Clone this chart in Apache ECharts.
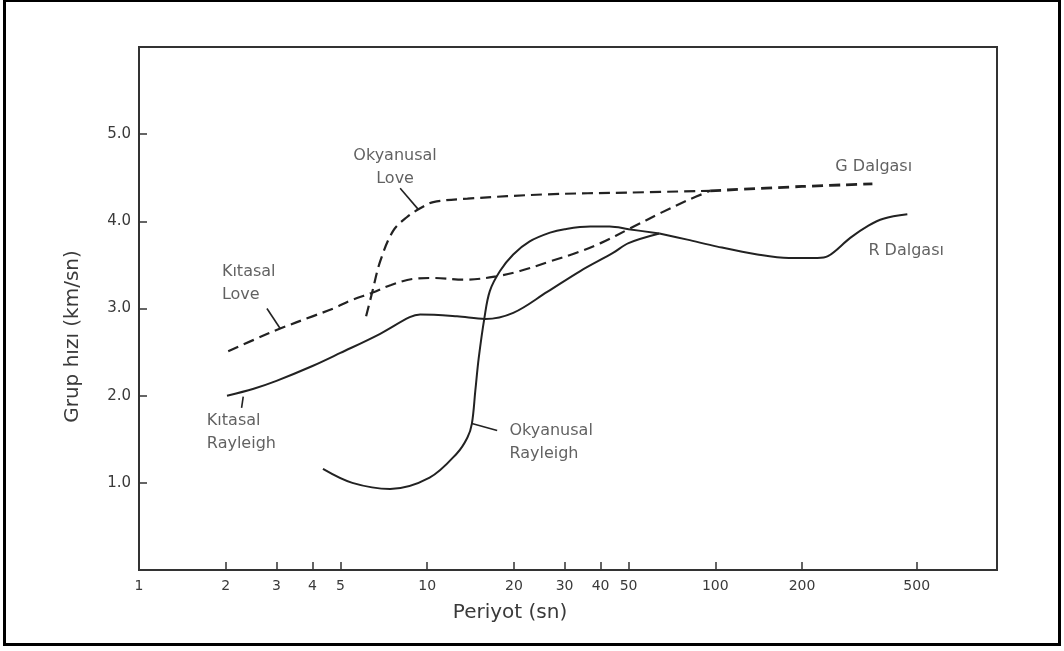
<!DOCTYPE html>
<html>
<head>
<meta charset="utf-8">
<script src="https://cdn.jsdelivr.net/npm/echarts@6/dist/echarts.min.js"></script>
<style>
  html, body { margin: 0; padding: 0; background: #fff; }
  #frame { position: absolute; left: 3px; top: 0; width: 1058px; height: 646px;
           box-sizing: border-box; border-style: solid; border-color: #000;
           border-width: 2px 3px 3px 3px; pointer-events: none; z-index: 5; }
  #chart { position: absolute; left: 0; top: 0; width: 1064px; height: 651px; }
</style>
</head>
<body>
<div id="chart"></div>
<div id="frame"></div>
<script>
// ---- tick labels ----
const xTickValues = [1, 2, 3, 4, 5, 10, 20, 30, 40, 50, 100, 200, 500];
const yTickValues = [1, 2, 3, 4, 5];

// ---- series: [period (sn), group velocity (km/sn)] ----
const kitasalLove = [[2.04,2.51],[2.5,2.64],[3.09,2.77],[4,2.91],[4.72,3.0],[5.5,3.1],[6.44,3.18],[7.5,3.27],[8.94,3.34],[10.5,3.35],[13.5,3.33],[17.5,3.37],[21,3.43],[26.7,3.54],[33,3.64],[40,3.75],[50.7,3.92],[65,4.1],[80,4.24],[96,4.35]];
const okyanusalLove = [[6.14,2.91],[6.44,3.18],[6.87,3.54],[7.62,3.89],[8.52,4.05],[9.46,4.15],[10.5,4.22],[13.8,4.26],[26.1,4.31],[50,4.33],[96,4.35]];
const gDalgasi = [[96,4.35],[200,4.40],[351,4.43]];
const kitasalRayleigh = [[2.02,2.0],[2.5,2.08],[3,2.17],[4,2.34],[5,2.49],[6.87,2.71],[8.7,2.9],[9.46,2.93],[12.7,2.91],[15.9,2.88],[19.9,2.95],[26.1,3.19],[34,3.43],[44.3,3.64],[50,3.75],[64,3.86]];
const okyanusalRayleigh = [[4.35,1.16],[5.5,1.0],[7.44,0.93],[10.2,1.06],[12.7,1.34],[13.8,1.52],[14.3,1.68],[14.7,2.06],[15.1,2.43],[15.8,2.89],[16.5,3.2],[17.9,3.43],[19.9,3.62],[22.7,3.77],[26.7,3.87],[30,3.91],[36.8,3.94],[43,3.94],[50,3.91],[64,3.86]];
const rDalgasi = [[64,3.86],[80,3.79],[101.6,3.71],[140,3.62],[180,3.58],[226,3.58],[246,3.6],[294,3.81],[340,3.95],[383,4.03],[464,4.08]];

// ---- annotations (text, anchor in data units) ----
const annotTexts = ['Okyanusal\nLove', 'G Dalgası', 'R Dalgası', 'Kıtasal\nLove', 'Kıtasal\nRayleigh', 'Okyanusal\nRayleigh'];
const annotPoints = [[7.74,4.62],[261,4.63],[340,3.66],[1.94,3.29],[1.72,1.58],[19.3,1.46]];
const leaderLines = [
  [[8.06,4.38],[9.3,4.14]],
  [[2.78,3.0],[3.09,2.77]],
  [[2.3,1.99],[2.27,1.86]],
  [[14.3,1.68],[17.5,1.6]]
];

const ink = '#222';
const textCol = '#3a3a3a';
const fontFam = 'DejaVu Sans, sans-serif';

function lineSeries(name, data, dashed, width) {
  return {
    name: name, type: 'line', data: data, smooth: 0.35, symbol: 'none',
    lineStyle: { color: ink, width: width || 2, type: dashed ? [11, 6] : 'solid' },
    z: 3
  };
}

const chart = echarts.init(document.getElementById('chart'), null, { renderer: 'canvas' });
chart.setOption({
  backgroundColor: '#fff',
  animation: false,
  grid: { left: 139, right: 67, top: 47, bottom: 81, show: true, borderColor: '#333', borderWidth: 2 },
  xAxis: {
    type: 'log', logBase: 10, min: 1, max: 950,
    name: 'Periyot (sn)', nameLocation: 'middle', nameGap: 33,
    nameTextStyle: { color: textCol, fontSize: 20, fontFamily: fontFam, padding: [0, 116, 0, 0] },
    axisLine: { show: true, lineStyle: { color: '#333', width: 2 } },
    axisTick: { show: true, inside: true, length: 8, customValues: xTickValues.slice(1), lineStyle: { color: '#333', width: 1.5 } },
    axisLabel: { customValues: xTickValues, color: textCol, fontSize: 14, fontFamily: fontFam, margin: 9,
                 formatter: v => String(v) },
    splitLine: { show: false }, minorTick: { show: false }
  },
  yAxis: {
    type: 'value', min: 0, max: 6, interval: 1,
    name: 'Grup hızı (km/sn)', nameLocation: 'middle', nameRotate: 90, nameGap: 56,
    nameTextStyle: { color: textCol, fontSize: 20, fontFamily: fontFam, padding: [0, 56, 0, 0] },
    axisLine: { show: true, lineStyle: { color: '#333', width: 2 } },
    axisTick: { show: true, inside: true, length: 8, customValues: yTickValues, lineStyle: { color: '#333', width: 1.5 } },
    axisLabel: { customValues: yTickValues, color: textCol, fontSize: 15, fontFamily: fontFam, margin: 8,
                 formatter: v => v.toFixed(1) },
    splitLine: { show: false }
  },
  series: [
    lineSeries('Kıtasal Love', kitasalLove, true, 2.2),
    lineSeries('Okyanusal Love', okyanusalLove, true, 2.2),
    lineSeries('G Dalgası', gDalgasi, true, 2.8),
    lineSeries('Kıtasal Rayleigh', kitasalRayleigh, false, 2),
    lineSeries('Okyanusal Rayleigh', okyanusalRayleigh, false, 2),
    lineSeries('R Dalgası', rDalgasi, false, 2),
    {
      name: 'annotations', type: 'scatter', symbolSize: 0, silent: true,
      data: annotTexts.map((t, i) => ({
        name: t, value: annotPoints[i],
        label: { align: i === 0 ? 'center' : 'left' }
      })),
      label: { show: true, position: [0, 0], formatter: '{b}', verticalAlign: 'middle',
               color: textCol, fontSize: 16, lineHeight: 23, fontFamily: fontFam },
      markLine: {
        silent: true, symbol: 'none', animation: false,
        lineStyle: { color: ink, width: 1.6, type: 'solid' }, label: { show: false },
        data: leaderLines.map(seg => [{ coord: seg[0] }, { coord: seg[1] }])
      }
    }
  ]
});
</script>
</body>
</html>
